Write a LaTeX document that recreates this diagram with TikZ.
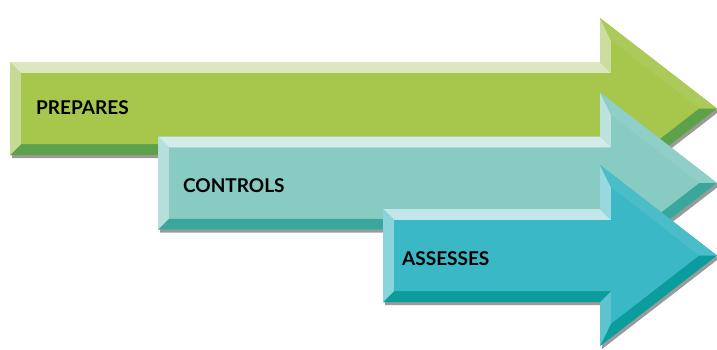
\documentclass[tikz,border=0pt]{standalone}
\usepackage{fontspec}
\setmainfont{Lato}
\definecolor{gmain}{HTML}{A6C64C}
\definecolor{glight}{HTML}{DCE7C2}
\definecolor{gdark}{HTML}{5BA24A}
\definecolor{tmain}{HTML}{87CBC2}
\definecolor{tlight}{HTML}{D3ECE9}
\definecolor{tdark}{HTML}{3BA79C}
\definecolor{cmain}{HTML}{3BB8C5}
\definecolor{clight}{HTML}{C2E6EA}
\definecolor{cdark}{HTML}{0B9C9E}
\definecolor{shadowc}{HTML}{9A9A9A}
\tikzset{
  label text/.style={anchor=west, inner sep=0pt, font=\fontsize{19}{22}\selectfont\bfseries, text=black},
}
% #1 left x, #2 centre y, #3 main, #4 light, #5 dark
\newcommand\bevarrow[5]{%
\begin{scope}[shift={(0,#2)}]
  \coordinate (o1) at (#1,46.5);
  \coordinate (o2) at (600,46.5);
  \coordinate (o3) at (600,90.5);
  \coordinate (o4) at (717,0);
  \coordinate (o5) at (600,-90.5);
  \coordinate (o6) at (600,-46.5);
  \coordinate (o7) at (#1,-46.5);
  \coordinate (i1) at (#1+11,35.5);
  \coordinate (i2) at (611,35.5);
  \coordinate (i3) at (611,68.1);
  \coordinate (i4) at (699,0);
  \coordinate (i5) at (611,-68.1);
  \coordinate (i6) at (611,-35.5);
  \coordinate (i7) at (#1+11,-35.5);
  \fill[shadowc] ([shift={(2,-3)}]o1) -- ([shift={(2,-3)}]o2) -- ([shift={(2,-3)}]o3) -- ([shift={(2,-3)}]o4) -- ([shift={(2,-3)}]o5) -- ([shift={(2,-3)}]o6) -- ([shift={(2,-3)}]o7) -- cycle;
  \fill[#3] (o1) -- (o2) -- (o3) -- (o4) -- (o5) -- (o6) -- (o7) -- cycle;
  \fill[#4] (o1) -- (o2) -- (i2) -- (i1) -- cycle;
  \fill[#4!70!#3] (o2) -- (o3) -- (i3) -- (i2) -- cycle;
  \fill[#4!12!#3] (o3) -- (o4) -- (i4) -- (i3) -- cycle;
  \fill[#5] (o4) -- (o5) -- (i5) -- (i4) -- cycle;
  \fill[#4!25!#3] (o5) -- (o6) -- (i6) -- (i5) -- cycle;
  \fill[#5] (o6) -- (o7) -- (i7) -- (i6) -- cycle;
  \fill[#4!60!#3] (o7) -- (o1) -- (i1) -- (i7) -- cycle;
  \fill[#3] (i1) -- (i2) -- (i3) -- (i4) -- (i5) -- (i6) -- (i7) -- cycle;
\end{scope}}
\begin{document}
\begin{tikzpicture}[x=1pt,y=1pt]
\useasboundingbox (0,0) rectangle (717,349);
\bevarrow{10}{240.5}{gmain}{glight}{gdark}
\node[label text] (prepares) at (36,241) {PREPARES};
\bevarrow{158}{166}{tmain}{tlight}{tdark}
\node[label text] (controls) at (183,163) {CONTROLS};
\bevarrow{383}{93.5}{cmain}{clight}{cdark}
\node[label text] (assesses) at (402,90) {ASSESSES};
\end{tikzpicture}
\end{document}
